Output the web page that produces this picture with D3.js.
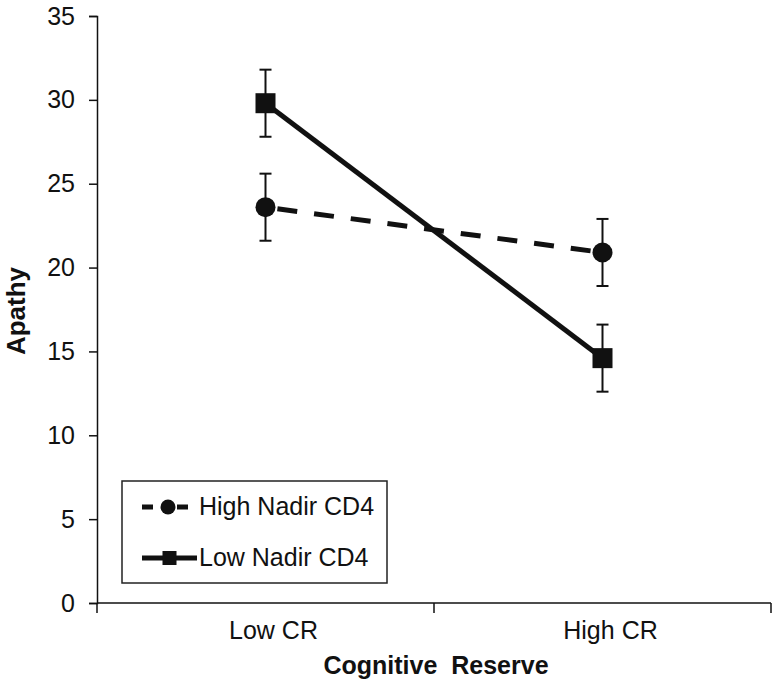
<!DOCTYPE html>
<html><head><meta charset="utf-8">
<script src="https://cdn.jsdelivr.net/npm/d3@7"></script>
<style>body{margin:0;background:#fff}svg{display:block}text{font-family:"Liberation Sans",Arial,sans-serif;fill:#111}</style>
</head><body><svg id="c" width="777" height="684"></svg>
<script>
const categories = ["Low CR", "High CR"];
const seriesNames = ["High Nadir CD4", "Low Nadir CD4"];
const highNadir = [23.6, 20.9];
const highNadirErr = [2.0, 2.0];
const lowNadir = [29.8, 14.6];
const lowNadirErr = [2.0, 2.0];
const yTicks = [0, 5, 10, 15, 20, 25, 30, 35];

const svg = d3.select("#c");
const x = d3.scaleBand().domain(categories).range([97, 771]);
const y = d3.scaleLinear().domain([0, 35]).range([603, 16]);
const cx = c => x(c) + x.bandwidth() / 2;

// axes
const ya = svg.append("g").attr("transform", "translate(97,0)")
  .call(d3.axisLeft(y).tickValues(yTicks).tickSize(8).tickPadding(14).tickFormat(d3.format("d")));
const xa = svg.append("g").attr("transform", "translate(0,603)")
  .call(d3.axisBottom(x).tickSize(0).tickPadding(18));
xa.selectAll(".tick text").attr("dx", 8);
// category boundary ticks
const bounds = [97, x(categories[1]), 771];
xa.selectAll(".bt").data(bounds).enter().append("line")
  .attr("x1", d => d).attr("x2", d => d).attr("y1", 0).attr("y2", 10)
  .attr("stroke", "#111").attr("stroke-width", 1.5);
[ya, xa].forEach(a => {
  a.select(".domain").attr("stroke", "#111").attr("stroke-width", 1.5);
  a.selectAll(".tick line").attr("stroke", "#111").attr("stroke-width", 1.5);
  a.selectAll("text").attr("font-size", 25).attr("font-family", "Liberation Sans, Arial, sans-serif").attr("fill", "#111");
});
xa.select(".domain").attr("d", "M97,0H771");

svg.append("text").attr("x", 436).attr("y", 674).attr("text-anchor", "middle")
  .attr("font-size", 25).attr("font-weight", "bold").attr("xml:space", "preserve").text("Cognitive  Reserve");
svg.append("text").attr("transform", "translate(25,311) rotate(-90)").attr("text-anchor", "middle")
  .attr("font-size", 26).attr("font-weight", "bold").text("Apathy");

const series = [
  {name: seriesNames[0], vals: highNadir, err: highNadirErr, dash: "20,17", shape: "circle"},
  {name: seriesNames[1], vals: lowNadir, err: lowNadirErr, dash: null, shape: "square"}
];
const line = d3.line().x((d, i) => cx(categories[i])).y(d => y(d));

series.forEach(s => {
  s.vals.forEach((v, i) => {
    const px = cx(categories[i]);
    const g = svg.append("g").attr("stroke", "#111").attr("stroke-width", 2);
    g.append("line").attr("x1", px).attr("x2", px).attr("y1", y(v + s.err[i])).attr("y2", y(v - s.err[i]));
    [v + s.err[i], v - s.err[i]].forEach(e => g.append("line").attr("x1", px - 6).attr("x2", px + 6).attr("y1", y(e)).attr("y2", y(e)));
  });
});
series.forEach(s => {
  const p = svg.append("path").datum(s.vals).attr("d", line).attr("fill", "none")
    .attr("stroke", "#111").attr("stroke-width", 5);
  if (s.dash) p.attr("stroke-dasharray", s.dash).attr("stroke-dashoffset", -12);
  s.vals.forEach((v, i) => drawMarker(s.shape, cx(categories[i]), y(v)));
});

function drawMarker(shape, px, py) {
  if (shape === "circle") svg.append("circle").attr("cx", px).attr("cy", py).attr("r", 10).attr("fill", "#111");
  else svg.append("rect").attr("x", px - 10).attr("y", py - 10).attr("width", 20).attr("height", 20).attr("fill", "#111");
}

// legend
svg.append("rect").attr("x", 122).attr("y", 481).attr("width", 265).attr("height", 102)
  .attr("fill", "#fff").attr("stroke", "#222").attr("stroke-width", 1.5);
const leg = [{s: series[0], y: 507, x1: 142, x2: 188, mx: 168, tx: 199, ty: 515},
             {s: series[1], y: 558, x1: 142, x2: 197, mx: 169.5, tx: 199, ty: 566}];
leg.forEach(l => {
  const ln = svg.append("line").attr("x1", l.x1).attr("x2", l.x2).attr("y1", l.y).attr("y2", l.y)
    .attr("stroke", "#111").attr("stroke-width", 5);
  if (l.s.dash) ln.attr("stroke-dasharray", "11,24,11");
  if (l.s.shape === "circle") svg.append("circle").attr("cx", l.mx).attr("cy", l.y).attr("r", 7.5).attr("fill", "#111");
  else svg.append("rect").attr("x", l.mx - 7).attr("y", l.y - 7).attr("width", 14).attr("height", 14).attr("fill", "#111");
  svg.append("text").attr("x", l.tx).attr("y", l.ty).attr("font-size", 25).text(l.s.name);
});
</script></body></html>
